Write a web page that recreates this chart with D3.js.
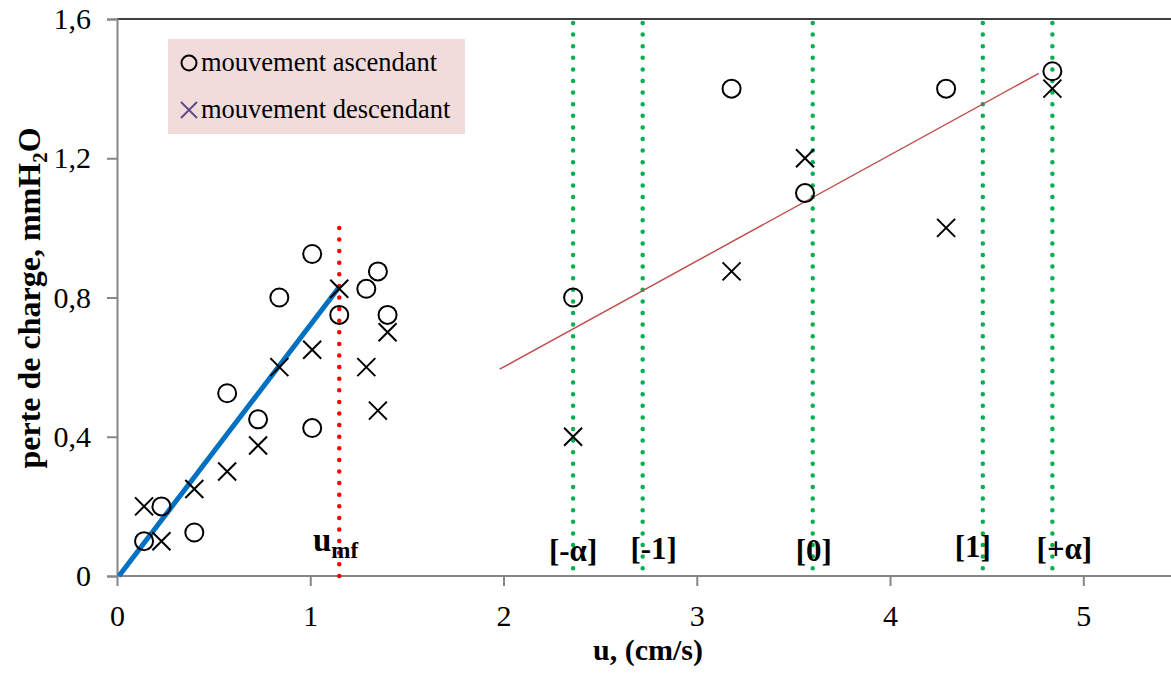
<!DOCTYPE html>
<html>
<head>
<meta charset="utf-8">
<script src="https://cdn.jsdelivr.net/npm/d3@7"></script>
<style>
  body { margin: 0; background: #fff; }
  svg { display: block; font-family: "Liberation Serif", "Times New Roman", serif; }
</style>
</head>
<body>
<script>
// perte de charge vs vitesse, mouvement ascendant / descendant

// mouvement ascendant (circles)
var upU = [0.14, 0.23, 0.40, 0.57, 0.73, 0.84, 1.01, 1.01, 1.15, 1.29, 1.35, 1.40, 2.36, 3.18, 3.56, 4.29, 4.84];
var upDP = [0.10, 0.20, 0.125, 0.525, 0.45, 0.80, 0.925, 0.425, 0.75, 0.825, 0.875, 0.75, 0.80, 1.40, 1.10, 1.40, 1.45];

// mouvement descendant (crosses)
var downU = [0.14, 0.23, 0.40, 0.57, 0.73, 0.84, 1.01, 1.15, 1.29, 1.35, 1.40, 2.36, 3.18, 3.56, 4.29, 4.84];
var downDP = [0.20, 0.10, 0.25, 0.30, 0.375, 0.60, 0.65, 0.825, 0.60, 0.475, 0.70, 0.40, 0.875, 1.20, 1.00, 1.40];

// fixed bed line (blue) and trend line (red)
var bedLine = [[0.01, 0], [1.15, 0.83]];
var trendLine = [[1.98, 0.594], [4.77, 1.444]];

// minimum fluidisation velocity
var umf = 1.15, umfTop = 1.0;

// design levels (green dotted lines)
var levelU = [2.36, 2.72, 3.60, 4.48, 4.84];
var levelLabels = ["[-α]", "[-1]", "[0]", "[1]", "[+α]"];

var xTicks = [0, 1, 2, 3, 4, 5];
var yTicks = [0, 0.4, 0.8, 1.2, 1.6];

window.onload = function(){
    var w = 1171, h = 673;
    var left = 117, top = 19, bottom = 576;

    var svg = d3.select("body").append("svg")
        .attr("width", w)
        .attr("height", h);

    var x = d3.scaleLinear().domain([0, 5]).range([left, 1083.3]);
    var y = d3.scaleLinear().domain([0, 1.6]).range([bottom, top]);

    // top border
    svg.append("line")
        .attr("x1", left).attr("x2", w)
        .attr("y1", y(1.6)).attr("y2", y(1.6))
        .style("stroke", "#000").style("stroke-width", 1.5);

    // axes
    var xAxis = svg.append("g")
        .attr("transform", "translate(0," + bottom + ")")
        .call(d3.axisBottom(x).tickValues(xTicks).tickSize(10).tickPadding(14)
            .tickFormat(function(d){ return String(d); }));
    xAxis.select(".domain").attr("d", "M" + left + ",0H" + w);

    var yAxis = svg.append("g")
        .attr("transform", "translate(" + left + ",0)")
        .call(d3.axisLeft(y).tickValues(yTicks).tickSize(10).tickPadding(16)
            .tickFormat(function(d){ return d === 0 ? "0" : d3.format(".1f")(d).replace(".", ","); }));

    svg.selectAll(".domain, .tick line")
        .style("stroke", "#868686").style("stroke-width", 2);
    svg.selectAll(".tick text")
        .style("font-family", "Liberation Serif, Times New Roman, serif")
        .style("font-size", "30px").style("fill", "#000");
    xAxis.selectAll(".tick text").attr("dy", "0.88em");

    // green dotted lines
    svg.selectAll(".level")
        .data(levelU)
        .enter().append("line")
        .attr("class", "level")
        .attr("x1", function(d){ return x(d); })
        .attr("x2", function(d){ return x(d); })
        .attr("y1", y(1.6) + 4).attr("y2", bottom)
        .style("stroke", "#00B050").style("stroke-width", 4.5)
        .style("stroke-linecap", "round")
        .style("stroke-dasharray", "0 11.6");

    // label nudges as in the original figure
    var labelDx = [0, 11, 1, -10, 12];
    var labelDy = [0, -2, 0, -4, -2];
    svg.selectAll(".levelLabel")
        .data(levelLabels)
        .enter().append("text")
        .attr("class", "levelLabel")
        .attr("x", function(d, i){ return x(levelU[i]) + labelDx[i]; })
        .attr("y", function(d, i){ return 561 + labelDy[i]; })
        .attr("text-anchor", "middle")
        .style("font-size", "31px").style("font-weight", "bold")
        .text(function(d){ return d; });

    // red dotted u_mf line
    svg.append("line")
        .attr("x1", x(umf)).attr("x2", x(umf))
        .attr("y1", y(umfTop)).attr("y2", bottom)
        .style("stroke", "#FF0000").style("stroke-width", 4.5)
        .style("stroke-linecap", "round")
        .style("stroke-dasharray", "0 11.6");

    var umfLabel = svg.append("text")
        .attr("x", 313).attr("y", 551)
        .style("font-weight", "bold");
    umfLabel.append("tspan").style("font-size", "33px").text("u");
    umfLabel.append("tspan").attr("dy", 7).style("font-size", "23px").text("mf");

    var line = d3.line()
        .x(function(d){ return x(d[0]); })
        .y(function(d){ return y(d[1]); });

    svg.append("path")
        .datum(bedLine)
        .attr("d", line)
        .style("fill", "none").style("stroke", "#0070C0").style("stroke-width", 5);

    svg.append("path")
        .datum(trendLine)
        .attr("d", line)
        .style("fill", "none").style("stroke", "#C0504D").style("stroke-width", 1.5);

    // circles
    svg.selectAll(".up")
        .data(upU)
        .enter().append("circle")
        .attr("class", "up")
        .attr("cx", function(d){ return x(d); })
        .attr("cy", function(d, i){ return y(upDP[i]); })
        .attr("r", 9)
        .style("fill", "none").style("stroke", "#000").style("stroke-width", 2);

    // crosses
    var s = 9;
    svg.selectAll(".down")
        .data(downU)
        .enter().append("path")
        .attr("class", "down")
        .attr("transform", function(d, i){ return "translate(" + x(d) + "," + y(downDP[i]) + ")"; })
        .attr("d", "M" + -s + "," + -s + "L" + s + "," + s + "M" + -s + "," + s + "L" + s + "," + -s)
        .style("fill", "none").style("stroke", "#000").style("stroke-width", 2);

    // legend
    var lg = svg.append("g");
    lg.append("rect")
        .attr("x", 168).attr("y", 39).attr("width", 297).attr("height", 95)
        .style("fill", "#F2DCDB");
    lg.append("circle")
        .attr("cx", 189).attr("cy", 63).attr("r", 7.5)
        .style("fill", "none").style("stroke", "#000").style("stroke-width", 2);
    lg.append("path")
        .attr("transform", "translate(189,110)")
        .attr("d", "M-8,-8L8,8M-8,8L8,-8")
        .style("fill", "none").style("stroke", "#5F4B8B").style("stroke-width", 2);
    lg.append("text").attr("x", 201).attr("y", 71)
        .style("font-size", "26.5px").text("mouvement ascendant");
    lg.append("text").attr("x", 201).attr("y", 118)
        .style("font-size", "26.5px").text("mouvement descendant");

    // axis titles
    svg.append("text")
        .attr("x", 648).attr("y", 660)
        .attr("text-anchor", "middle")
        .style("font-size", "30px").style("font-weight", "bold")
        .text("u, (cm/s)");

    var yTitle = svg.append("text")
        .attr("transform", "translate(40,298) rotate(-90)")
        .attr("text-anchor", "middle")
        .style("font-size", "32px").style("font-weight", "bold");
    yTitle.append("tspan").text("perte de charge, mmH");
    yTitle.append("tspan").attr("dy", 7).style("font-size", "21px").text("2");
    yTitle.append("tspan").attr("dy", -7).text("O");
};
</script>
</body>
</html>
